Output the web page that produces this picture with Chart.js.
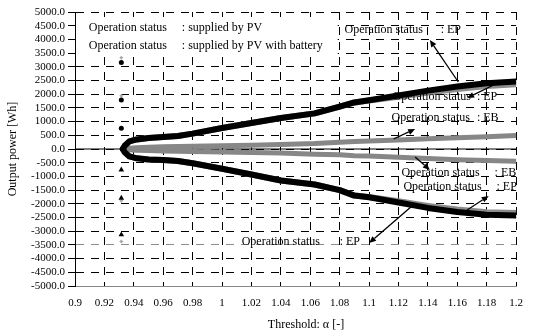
<!DOCTYPE html>
<html>
<head>
<meta charset="utf-8">
<script src="https://cdn.jsdelivr.net/npm/chart.js@4.4.0/dist/chart.umd.min.js"></script>
<style>
  body { margin: 0; background: #fff; }
  #wrap { width: 534px; height: 334px; }
</style>
</head>
<body>
<div id="wrap"><canvas id="powerChart"></canvas></div>
<script>
// threshold alpha
const thresholds = [0.9325, 0.934, 0.937, 0.942, 0.95, 0.96, 0.97, 0.98, 1.0, 1.02, 1.04, 1.063, 1.08, 1.09, 1.1, 1.12, 1.14, 1.16, 1.18, 1.2];

// supplied by PV : EP (black)
const pvUpper = [0, 130, 280, 350, 400, 440, 475, 560, 766, 950, 1130, 1300, 1550, 1700, 1780, 1950, 2130, 2280, 2400, 2460];
const pvLower = [0, -130, -270, -340, -380, -400, -438, -520, -722, -930, -1150, -1295, -1500, -1700, -1760, -1950, -2150, -2300, -2400, -2430];

// supplied by PV with battery : EP (grey, just under the black)
const batUpperEP = [0, 130, 280, 350, 400, 440, 475, 560, 766, 950, 1130, 1300, 1550, 1700, 1770, 1910, 2060, 2190, 2300, 2360];
const batLowerEP = [0, -130, -270, -340, -380, -400, -438, -520, -722, -930, -1150, -1295, -1500, -1700, -1750, -1910, -2080, -2210, -2310, -2340];

// supplied by PV with battery : EB (grey)
const batUpperEB = [0, 15, 30, 45, 60, 80, 90, 100, 115, 135, 160, 200, 250, 270, 290, 330, 370, 410, 450, 490];
const batLowerEB = [0, -15, -30, -45, -55, -75, -85, -95, -105, -125, -150, -190, -210, -245, -260, -300, -350, -390, -420, -450];

// single markers at the starting threshold
const markerX = 0.9315;
const dotValues = [3160, 1790, 760];
const triValues = [-760, -1790, -3130];
const greyDotValues = [3330, 1940, -1890, -3380];

// axis
const xMin = 0.9, xMax = 1.2, xStep = 0.02;
const yMin = -5000, yMax = 5000, yStep = 500;

// annotation texts, positioned in data units
const notes = [
  { x: 0.90933, y: 4427, text: 'Operation status' },
  { x: 0.97267, y: 4427, text: ': supplied by PV' },
  { x: 0.90933, y: 3770, text: 'Operation status' },
  { x: 0.97267, y: 3770, text: ': supplied by PV with battery' },
  { x: 1.08333, y: 4343, text: 'Operation status' },
  { x: 1.14867, y: 4343, text: ': EP' },
  { x: 1.116, y: 1898, text: 'Operation status' },
  { x: 1.17333, y: 1898, text: ': EP' },
  { x: 1.11533, y: 1131, text: 'Operation status' },
  { x: 1.17333, y: 1131, text: ': EB' },
  { x: 1.122, y: -876, text: 'Operation status' },
  { x: 1.18533, y: -876, text: ': EB' },
  { x: 1.12333, y: -1387, text: 'Operation status' },
  { x: 1.18667, y: -1387, text: ': EP' },
  { x: 1.01333, y: -3394, text: 'Operation status' },
  { x: 1.08, y: -3394, text: ': EP' }
];
// arrows: from -> to (head)
const arrows = [
  [1.16067, 2445, 1.14133, 3978],
  [1.18467, 2336, 1.16667, 1861],
  [1.11667, 365, 1.13133, 730],
  [1.13133, -292, 1.14133, -766],
  [1.16667, -2226, 1.18133, -1715],
  [1.13, -2044, 1.1, -3431]
];
const legendBox = { x1: 0.90067, x2: 1.07867, y1: 4818, y2: 3394 };

const serif = '"Liberation Serif", "Times New Roman", serif';

function pts(xs, ys) {
  return xs.map((x, i) => ({ x: x, y: ys[i] }));
}

const annotate = {
  id: 'annotate',
  beforeDatasetsDraw(chart) {
    const c = chart.ctx;
    const area = chart.chartArea;
    const y0 = chart.scales.y.getPixelForValue(0);
    c.save();
    // solid zero line
    c.strokeStyle = '#000';
    c.lineWidth = 1;
    c.beginPath();
    c.moveTo(area.left, y0);
    c.lineTo(area.right, y0);
    c.stroke();
    c.restore();
  },
  afterDatasetsDraw(chart) {
    const c = chart.ctx;
    const xs = chart.scales.x, ys = chart.scales.y;
    c.save();
    // white box behind the legend text
    const bx1 = xs.getPixelForValue(legendBox.x1), bx2 = xs.getPixelForValue(legendBox.x2);
    const by1 = ys.getPixelForValue(legendBox.y1), by2 = ys.getPixelForValue(legendBox.y2);
    c.fillStyle = '#fff';
    c.fillRect(bx1, by1, bx2 - bx1, by2 - by1);

    c.fillStyle = '#000';
    c.font = '12px ' + serif;
    c.textBaseline = 'middle';
    c.textAlign = 'left';
    notes.forEach(n => {
      c.fillText(n.text, xs.getPixelForValue(n.x), ys.getPixelForValue(n.y));
    });

    c.strokeStyle = '#000';
    c.lineWidth = 1.3;
    arrows.forEach(a => {
      const x1 = xs.getPixelForValue(a[0]), y1 = ys.getPixelForValue(a[1]);
      const x2 = xs.getPixelForValue(a[2]), y2 = ys.getPixelForValue(a[3]);
      const ang = Math.atan2(y2 - y1, x2 - x1);
      const hl = 7, hw = 3;
      const bx = x2 - hl * Math.cos(ang), by = y2 - hl * Math.sin(ang);
      c.beginPath();
      c.moveTo(x1, y1);
      c.lineTo(bx, by);
      c.stroke();
      c.beginPath();
      c.moveTo(x2, y2);
      c.lineTo(bx + hw * Math.sin(ang), by - hw * Math.cos(ang));
      c.lineTo(bx - hw * Math.sin(ang), by + hw * Math.cos(ang));
      c.closePath();
      c.fill();
    });

    // x axis title
    c.textAlign = 'center';
    c.fillText('Threshold: α [-]', 306, 325);
    c.restore();
  }
};

new Chart(document.getElementById('powerChart'), {
  type: 'line',
  data: {
    datasets: [
      { data: pts(thresholds, pvUpper), borderColor: '#000', borderWidth: 6, order: 1 },
      { data: pts(thresholds, pvLower), borderColor: '#000', borderWidth: 6, order: 1 },
      { data: pts(thresholds, batUpperEP), borderColor: '#8c8c8c', borderWidth: 6, order: 3 },
      { data: pts(thresholds, batLowerEP), borderColor: '#8c8c8c', borderWidth: 6, order: 3 },
      { data: pts(thresholds, batUpperEB), borderColor: '#878787', borderWidth: 5, order: 2 },
      { data: pts(thresholds, batLowerEB), borderColor: '#878787', borderWidth: 5, order: 2 },
      { data: dotValues.map(v => ({ x: markerX, y: v })), showLine: false, pointRadius: 2.5,
        pointStyle: 'circle', pointBackgroundColor: '#000', pointBorderWidth: 0, order: 0 },
      { data: triValues.map(v => ({ x: markerX, y: v })), showLine: false, pointRadius: 3.2,
        pointStyle: 'triangle', pointBackgroundColor: '#000', pointBorderWidth: 0, order: 0 },
      { data: greyDotValues.map(v => ({ x: markerX, y: v })), showLine: false, pointRadius: 2,
        pointStyle: 'rectRot', pointBackgroundColor: '#aaa', pointBorderWidth: 0, order: 0 }
    ]
  },
  options: {
    responsive: true,
    maintainAspectRatio: false,
    animation: false,
    layout: { padding: { left: 0, right: 9, top: 12, bottom: 0 } },
    elements: {
      line: { tension: 0, borderCapStyle: 'round', borderJoinStyle: 'round', fill: false },
      point: { radius: 0 }
    },
    plugins: { legend: { display: false }, tooltip: { enabled: false } },
    scales: {
      x: {
        type: 'linear',
        min: xMin,
        max: xMax,
        afterFit: s => { s.height = 48; },
        border: { display: true, color: '#888', width: 1, dash: [8, 7] },
        grid: { color: '#000', lineWidth: 1, drawTicks: false },
        ticks: {
          stepSize: xStep,
          autoSkip: false,
          maxTicksLimit: 100,
          maxRotation: 0,
          padding: 11,
          color: '#000',
          font: { family: serif, size: 11 },
          callback: v => Number(v.toFixed(2)).toString()
        }
      },
      y: {
        min: yMin,
        max: yMax,
        afterFit: s => { s.width = 75; },
        border: { display: true, color: '#000', width: 1, dash: [8, 7] },
        grid: {
          lineWidth: 1,
          color: ctx => {
            if (!ctx.tick) return '#000';
            if (ctx.tick.value === yMin) return 'rgba(0,0,0,0)';
            if (ctx.tick.value === -3500) return '#8c8c8c';
            return '#000';
          },
          drawTicks: true,
          tickLength: 7,
          tickColor: '#000',
          tickBorderDash: []
        },
        ticks: {
          stepSize: yStep,
          autoSkip: false,
          maxTicksLimit: 100,
          padding: 3,
          color: '#000',
          font: { family: serif, size: 11 },
          callback: v => v.toFixed(1)
        },
        title: {
          display: true,
          text: 'Output power [Wh]',
          color: '#000',
          font: { family: serif, size: 12 },
          padding: { top: 6, bottom: 0 }
        }
      }
    }
  },
  plugins: [annotate]
});
</script>
</body>
</html>
